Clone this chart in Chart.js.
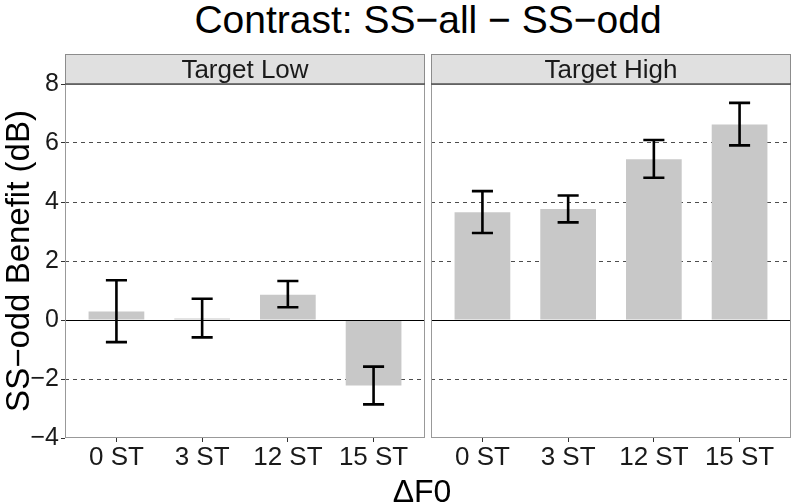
<!DOCTYPE html>
<html>
<head>
<meta charset="utf-8">
<script src="https://cdn.jsdelivr.net/npm/chart.js@4.4.1/dist/chart.umd.min.js"></script>
<style>
  body { margin: 0; background: #fff; font-family: "Liberation Sans", Arial, sans-serif; }
  #wrap { position: relative; width: 793px; height: 504px; overflow: hidden; }
  #title { position: absolute; left: 65px; width: 726px; top: 0px; line-height: 1; text-align: center; font-size: 39px; color: #000; white-space: nowrap; }
  #xtitle { position: absolute; left: 59px; width: 726px; top: 475px; line-height: 1; text-align: center; font-size: 32px; color: #000; }
  .box { position: absolute; top: 40px; height: 464px; }
</style>
</head>
<body>
<div id="wrap">
  <div id="title">Contrast: SS−all − SS−odd</div>
  <div class="box" style="left:0; width:428px;"><canvas id="lowChart"></canvas></div>
  <div class="box" style="left:428px; width:365px;"><canvas id="highChart"></canvas></div>
  <div id="xtitle">ΔF0</div>
</div>
<script>
const categories = ['0 ST', '3 ST', '12 ST', '15 ST'];
const panels = ['Target Low', 'Target High'];
const yTicks = [-4, -2, 0, 2, 4, 6, 8];

const lowMean = [0.29, 0.05, 0.86, -2.22];
const lowLower = [-0.75, -0.59, 0.43, -2.86];
const lowUpper = [1.35, 0.72, 1.32, -1.58];

const highMean = [3.65, 3.76, 5.45, 6.63];
const highLower = [2.95, 3.31, 4.82, 5.92];
const highUpper = [4.37, 4.22, 6.10, 7.36];

const FONT = '"Liberation Sans", Arial, sans-serif';

// strip, panel border, zero line and error bars
function panelPlugin(label, lower, upper) {
    return {
        id: 'panel',
        afterDatasetsDraw(chart) {
            const ctx = chart.ctx;
            const a = chart.chartArea;
            const xs = chart.scales.x, ys = chart.scales.y;

            ctx.save();
            const y0 = Math.round(ys.getPixelForValue(0)) + 0.5;
            ctx.strokeStyle = '#000';
            ctx.lineWidth = 1;
            ctx.beginPath();
            ctx.moveTo(a.left, y0);
            ctx.lineTo(a.right, y0);
            ctx.stroke();

            ctx.lineWidth = 2.6;
            ctx.strokeStyle = '#000';
            for (let i = 0; i < lower.length; i++) {
                const x = xs.getPixelForValue(i + 1);
                const xl = xs.getPixelForValue(i + 1 - 0.123);
                const xr = xs.getPixelForValue(i + 1 + 0.123);
                const yl = ys.getPixelForValue(lower[i]);
                const yh = ys.getPixelForValue(upper[i]);
                ctx.beginPath();
                ctx.moveTo(x, yl); ctx.lineTo(x, yh);
                ctx.moveTo(xl, yl); ctx.lineTo(xr, yl);
                ctx.moveTo(xl, yh); ctx.lineTo(xr, yh);
                ctx.stroke();
            }
            ctx.restore();
        },
        afterDraw(chart) {
            const ctx = chart.ctx;
            const a = chart.chartArea;
            ctx.save();
            ctx.strokeStyle = '#999';
            ctx.lineWidth = 1;
            ctx.strokeRect(a.left + 0.5, a.top + 0.5, a.right - a.left - 1, a.bottom - a.top - 1);

            const sh = 30;
            ctx.fillStyle = '#e0e0e0';
            ctx.fillRect(a.left, a.top - sh, a.right - a.left, sh);
            ctx.strokeStyle = '#8c8c8c';
            ctx.strokeRect(a.left + 0.5, a.top - sh + 0.5, a.right - a.left - 1, sh);
            ctx.strokeStyle = '#555';
            ctx.lineWidth = 1.5;
            ctx.beginPath();
            ctx.moveTo(a.left, a.top);
            ctx.lineTo(a.right, a.top);
            ctx.stroke();

            ctx.fillStyle = '#1a1a1a';
            ctx.font = '26px ' + FONT;
            ctx.textAlign = 'center';
            ctx.textBaseline = 'alphabetic';
            ctx.fillText(label, (a.left + a.right) / 2, a.top - 6);
            ctx.restore();
        }
    };
}

function makeChart(id, label, mean, lower, upper, showY) {
    const ctx = document.getElementById(id).getContext('2d');
    return new Chart(ctx, {
        type: 'bar',
        data: {
            datasets: [{
                data: mean.map((v, i) => ({ x: i + 1, y: v })),
                backgroundColor: '#c8c8c8',
                borderWidth: 0,
                barPercentage: 0.65,
                categoryPercentage: 1
            }]
        },
        options: {
            responsive: true,
            maintainAspectRatio: false,
            animation: false,
            layout: { padding: { top: 44, right: showY ? 3 : 2, left: 0, bottom: 0 } },
            plugins: { legend: { display: false }, tooltip: { enabled: false } },
            scales: {
                x: {
                    type: 'linear',
                    min: 0.4,
                    max: 4.6,
                    offset: false,
                    afterBuildTicks: s => { s.ticks = categories.map((c, i) => ({ value: i + 1 })); },
                    afterFit: s => { s.height = 66; },
                    grid: { offset: false, drawOnChartArea: false, drawTicks: true, tickLength: 4, tickColor: '#333', color: '#333' },
                    border: { display: false },
                    ticks: {
                        callback: v => categories[v - 1],
                        font: { family: FONT, size: 26 },
                        color: '#1a1a1a',
                        padding: 0,
                        maxRotation: 0,
                        autoSkip: false
                    }
                },
                y: {
                    min: -4,
                    max: 8,
                    afterBuildTicks: s => { s.ticks = yTicks.map(v => ({ value: v })); },
                    afterFit: s => { s.width = showY ? 65 : 3; },
                    grid: {
                        color: c => (c.tick.value === 0 || c.tick.value === 8 || c.tick.value === -4) ? 'rgba(0,0,0,0)' : '#4d4d4d',
                        lineWidth: 1,
                        drawTicks: showY,
                        tickLength: 4,
                        tickColor: '#333'
                    },
                    border: { display: false, dash: [4, 4] },
                    ticks: {
                        display: showY,
                        font: { family: FONT, size: 25 },
                        color: '#1a1a1a',
                        padding: 2,
                        callback: v => v < 0 ? '−' + Math.abs(v) : String(v)
                    },
                    title: {
                        display: showY,
                        text: 'SS−odd Benefit (dB)',
                        font: { family: FONT, size: 33 },
                        color: '#000',
                        padding: { top: 0, bottom: 0 }
                    }
                }
            }
        },
        plugins: [panelPlugin(label, lower, upper)]
    });
}

makeChart('lowChart', panels[0], lowMean, lowLower, lowUpper, true);
makeChart('highChart', panels[1], highMean, highLower, highUpper, false);
</script>
</body>
</html>
